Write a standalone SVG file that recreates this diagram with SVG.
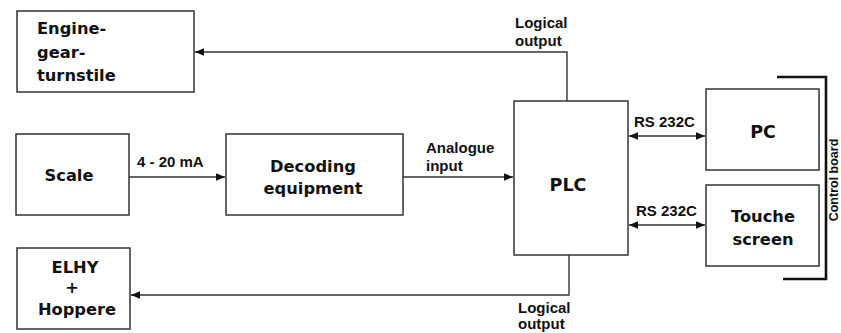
<svg xmlns="http://www.w3.org/2000/svg" width="841" height="333" viewBox="0 0 841 333">
<style>
.box{fill:#fff;stroke:#333;stroke-width:1.5}
.ln{fill:none;stroke:#333;stroke-width:1.4}
.t{font-family:"DejaVu Sans",Verdana,sans-serif;font-weight:bold;font-size:16.3px;fill:#111}
.big{font-size:17.5px}
.c{text-anchor:middle}
.lb{font-family:"Liberation Sans",Arial,sans-serif;font-weight:bold;font-size:15px;fill:#111}
</style>
<defs>
<marker id="ah" markerWidth="10" markerHeight="10" refX="9" refY="5" orient="auto-start-reverse" markerUnits="userSpaceOnUse">
<path d="M0,1.2 L9,5 L0,8.8 Z" fill="#111"/>
</marker>
</defs>
<rect width="841" height="333" fill="#fff"/>
<g id="connectors">
<path class="ln" d="M567,101 V52 H195" marker-end="url(#ah)"/>
<path class="ln" d="M129,177 H225" marker-end="url(#ah)"/>
<path class="ln" d="M403,177 H513" marker-end="url(#ah)"/>
<path class="ln" d="M629,136 H705" marker-start="url(#ah)" marker-end="url(#ah)"/>
<path class="ln" d="M629,225 H705" marker-start="url(#ah)" marker-end="url(#ah)"/>
<path class="ln" d="M569,255 V295 H131" marker-end="url(#ah)"/>
<text class="lb" x="515" y="28">Logical</text>
<text class="lb" x="515" y="46">output</text>
<text class="lb" x="518" y="313">Logical</text>
<text class="lb" x="518" y="329">output</text>
<text class="lb" x="137" y="167">4 - 20 mA</text>
<text class="lb" x="426" y="153">Analogue</text>
<text class="lb" x="426" y="171">input</text>
<text class="lb" x="634" y="127">RS 232C</text>
<text class="lb" x="636" y="216">RS 232C</text>
</g>
<g id="engine">
<rect class="box" x="17" y="11" width="177" height="81"/>
<text class="t" x="37" y="34">Engine-</text>
<text class="t" x="37" y="58">gear-</text>
<text class="t" x="37" y="81">turnstile</text>
</g>
<g id="scale">
<rect class="box" x="16" y="134" width="113" height="81"/>
<text class="t c" x="69" y="181">Scale</text>
</g>
<g id="decoding">
<rect class="box" x="226" y="134" width="177" height="81"/>
<text class="t c" x="313" y="172">Decoding</text>
<text class="t c" x="313" y="194">equipment</text>
</g>
<g id="plc">
<rect class="box" x="514" y="101" width="114" height="154"/>
<text class="t big c" x="568" y="191">PLC</text>
</g>
<g id="pc">
<rect class="box" x="706" y="89" width="113" height="81"/>
<text class="t big c" x="763" y="138">PC</text>
</g>
<g id="touche">
<rect class="box" x="706" y="185" width="113" height="81"/>
<text class="t c" x="763" y="222">Touche</text>
<text class="t c" x="763" y="245">screen</text>
</g>
<g id="elhy">
<rect class="box" x="17" y="248" width="113" height="81"/>
<text class="t c" x="75" y="273">ELHY</text>
<text class="t c" x="72" y="293">+</text>
<text class="t c" x="77" y="315">Hoppere</text>
</g>
<g id="control-board">
<polyline points="777,77 826,77 826,279 783,279" fill="none" stroke="#111" stroke-width="2.6"/>
<text class="lb" transform="translate(837.5,180) rotate(-90)" text-anchor="middle" style="font-size:12.5px">Control board</text>
</g>
</svg>
